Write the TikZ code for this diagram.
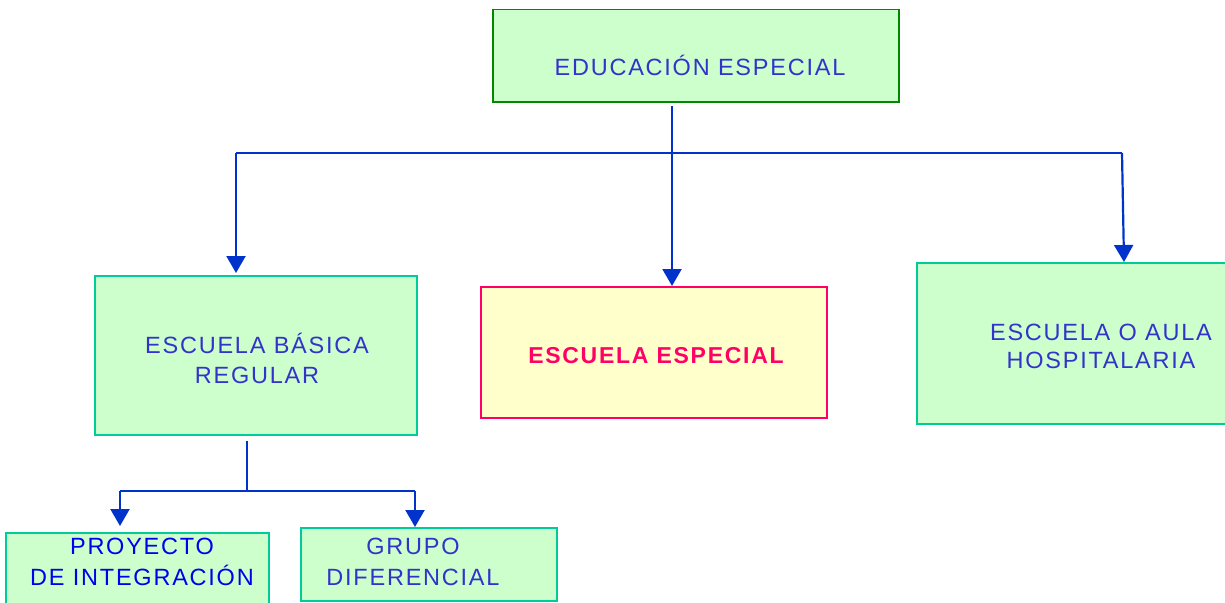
\documentclass[tikz,border=0pt]{standalone}
\usepackage{fontspec}
\setmainfont{Liberation Sans}
\newfontfamily\lsf[LetterSpace=7.5]{Liberation Sans}
\usetikzlibrary{arrows.meta,calc}
\definecolor{boxfill}{HTML}{CCFFCC}
\definecolor{darkgreen}{HTML}{008800}
\definecolor{teal}{HTML}{00CC99}
\definecolor{txtblue}{HTML}{3333CC}
\definecolor{brightblue}{HTML}{0000EE}
\definecolor{pink}{HTML}{FF0066}
\definecolor{pale}{HTML}{FFFFCC}
\definecolor{lineblue}{HTML}{0033CC}
\tikzset{
  box/.style={draw=teal, fill=boxfill, line width=1.5pt, rectangle, inner sep=0pt, anchor=north west},
  lbl/.style={text=txtblue, align=center, inner sep=0pt, font=\lsf\fontsize{23.5}{30}\selectfont},
  conn/.style={draw=lineblue, line width=2.2pt},
  arr/.style={conn, -{Triangle[width=19pt,length=17pt]}}
}
\begin{document}
\begin{tikzpicture}[x=1pt,y=-1pt]
\useasboundingbox (0,0) rectangle (1225,602);
\clip (0,0) rectangle (1225,602);
% boxes
\node[box, draw=darkgreen, minimum width=406pt, minimum height=92pt] (top) at (492,9) {};
\node[box, minimum width=322pt, minimum height=159pt] (bas) at (94,275) {};
\node[box, draw=pink, fill=pale, minimum width=346pt, minimum height=131pt] (esp) at (480,286) {};
\node[box, minimum width=320pt, minimum height=161pt] (hos) at (916,262) {};
\node[box, minimum width=263pt, minimum height=90pt] (pro) at (5,532) {};
\node[box, minimum width=256pt, minimum height=73pt] (gru) at (300,527) {};
% texts
\node[lbl] (ttop) at (700,65) {EDUCACIÓN ESPECIAL};
\node[lbl] (tbas) at (257,358) {ESCUELA BÁSICA\\REGULAR};
\node[lbl, text=pink, font=\lsf\bfseries\fontsize{23}{30}\selectfont] (tesp) at (656,356) {ESCUELA ESPECIAL};
\node[lbl, font=\lsf\fontsize{23.5}{28}\selectfont] (thos) at (1101,346) {ESCUELA O AULA\\HOSPITALARIA};
\node[lbl, text=brightblue, font=\lsf\fontsize{23.5}{31}\selectfont] (tpro) at (142,562) {PROYECTO\\DE INTEGRACIÓN};
\node[lbl, font=\lsf\fontsize{23.5}{31}\selectfont] (tgru) at (413,562) {GRUPO\\DIFERENCIAL};
% connector junctions
\coordinate (s1) at (672,106);
\coordinate (h1) at (236,153);
\coordinate (h2) at (672,153);
\coordinate (h3) at (1122,153);
\coordinate (s2) at (247,441);
\coordinate (g1) at (120,491);
\coordinate (g2) at (247,491);
\coordinate (g3) at (415,491);
% connectors
\draw[conn] (s1) -- (h2);
\draw[conn] (h1) -- (h3);
\draw[arr] (h1) -- ($(h1 |- bas.north)+(0,-2)$);
\draw[arr] (h2) -- (h2 |- esp.north);
\draw[arr] (h3) -- ($(h3 |- hos.north)+(2,0)$);
\draw[conn] (s2) -- (g2);
\draw[conn] (g1) -- (g3);
\draw[arr] (g1) -- ($(g1 |- pro.north)+(0,-6)$);
\draw[arr] (g3) -- (g3 |- gru.north);
\end{tikzpicture}
\end{document}
